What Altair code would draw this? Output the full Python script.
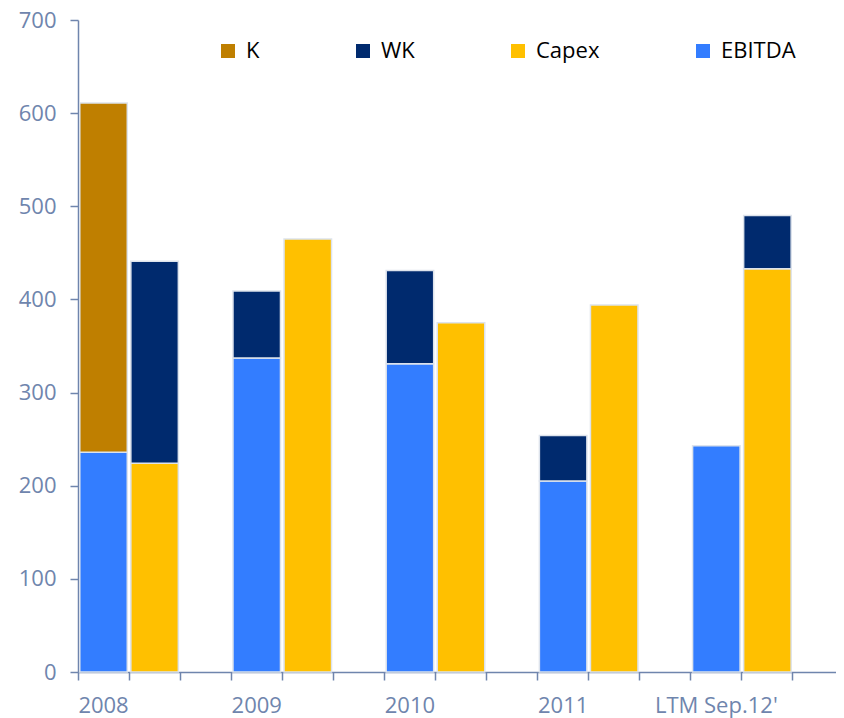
import altair as alt
import pandas as pd

years = ["2008", "2009", "2010", "2011", "LTM Sep.12'"]
ebitda = [236, 337, 331, 205, 243]
k_vals = [375, 0, 0, 0, 0]
wk_left = [0, 72, 100, 49, 0]
capex = [224, 465, 375, 394, 433]
wk_right = [217, 0, 0, 0, 57]

series_order = ["K", "WK", "Capex", "EBITDA"]
series_colors = ["#BF7F00", "#002A6E", "#FFC000", "#337DFF"]
y_ticks = [0, 100, 200, 300, 400, 500, 600, 700]

rows = []
for i, yr in enumerate(years):
    left = f"{yr}|0"
    right = f"{yr}|1"
    rows.append(dict(slot=left, series="EBITDA", value=ebitda[i], o=0))
    if k_vals[i]:
        rows.append(dict(slot=left, series="K", value=k_vals[i], o=1))
    if wk_left[i]:
        rows.append(dict(slot=left, series="WK", value=wk_left[i], o=1))
    rows.append(dict(slot=right, series="Capex", value=capex[i], o=0))
    if wk_right[i]:
        rows.append(dict(slot=right, series="WK", value=wk_right[i], o=1))
df = pd.DataFrame(rows)
slots = [f"{yr}|{j}" for yr in years for j in range(3)]

axis_color = "#6F85AD"
font = "Open Sans"

chart = alt.Chart(df).mark_bar(
    width={"band": 0.93}, stroke="#DDE3EC", strokeWidth=1.5
).encode(
    x=alt.X(
        "slot:N",
        sort=slots,
        scale=alt.Scale(domain=slots, paddingInner=0, paddingOuter=0, range=[0, 766]),
        axis=alt.Axis(
            title=None,
            labelExpr="split(datum.label, '|')[1] == '0' ? split(datum.label, '|')[0] : ''",
            bandPosition=0,
            labelAngle=0,
            labelOverlap=False,
            labelFont=font,
            labelFontSize=22,
            labelColor=axis_color,
            labelPadding=15,
            tickSize=8,
            tickColor=axis_color,
            tickWidth=1.5,
            domainColor=axis_color,
            domainWidth=1.5,
            grid=False,
        ),
    ),
    y=alt.Y(
        "value:Q",
        stack="zero",
        scale=alt.Scale(domain=[0, 700], nice=False),
        axis=alt.Axis(
            title=None,
            values=y_ticks,
            labelFont=font,
            labelFontSize=22,
            labelColor=axis_color,
            labelPadding=14,
            tickSize=8,
            tickColor=axis_color,
            tickWidth=1.5,
            domainColor=axis_color,
            domainWidth=1.5,
            grid=False,
        ),
    ),
    color=alt.Color(
        "series:N",
        scale=alt.Scale(domain=series_order, range=series_colors),
        legend=alt.Legend(
            title=None,
            orient="none",
            legendX=139,
            legendY=20,
            direction="horizontal",
            columns=4,
            columnPadding=92,
            symbolType="square",
            symbolSize=196,
            symbolStrokeWidth=0,
            labelFont=font,
            labelFontSize=22,
            labelColor="black",
            labelOffset=7,
        ),
    ),
    order=alt.Order("o:Q"),
).properties(
    width=758,
    height=652,
    autosize=alt.AutoSizeParams(type="none"),
    padding={"left": 70, "top": 12, "right": 0, "bottom": 48},
).configure_view(stroke=None)

chart.save("out.html", embed_options={"renderer": "svg", "actions": False})
